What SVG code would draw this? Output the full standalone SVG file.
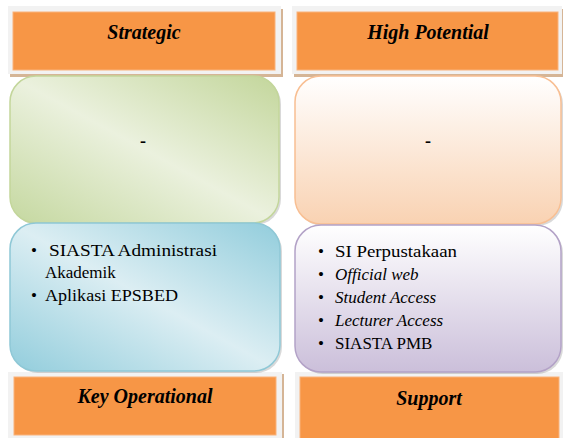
<svg xmlns="http://www.w3.org/2000/svg" width="563" height="438" viewBox="0 0 563 438">
<defs>
<linearGradient id="gGreen" x1="0" y1="1" x2="1" y2="0">
<stop offset="0" stop-color="#C5D8A0"/>
<stop offset="0.5" stop-color="#EBF1DE"/>
<stop offset="1" stop-color="#C3D69B"/>
</linearGradient>
<linearGradient id="gBlue" x1="0" y1="1" x2="1" y2="0">
<stop offset="0" stop-color="#92CDDC"/>
<stop offset="0.5" stop-color="#DCEEF3"/>
<stop offset="1" stop-color="#92CDDC"/>
</linearGradient>
<linearGradient id="gPeach" x1="0" y1="0" x2="0" y2="1">
<stop offset="0" stop-color="#FFFFFF"/>
<stop offset="1" stop-color="#F9D2B2"/>
</linearGradient>
<linearGradient id="gPurple" x1="0" y1="0" x2="0" y2="1">
<stop offset="0" stop-color="#FFFFFF"/>
<stop offset="1" stop-color="#CBBFDA"/>
</linearGradient>
</defs>
<rect width="563" height="438" fill="#fff"/>

<g id="strategic-header" font-family="Liberation Serif">
<rect x="10" y="9" width="273" height="68" fill="#D5B596"/>
<rect x="8" y="6" width="273" height="68" fill="#F2F2F2"/>
<rect x="13" y="12" width="262" height="58" fill="#F79646" stroke="#F9B27A"/>
<text x="144" y="39" font-family="Liberation Serif" font-weight="bold" font-style="italic" font-size="20" text-anchor="middle" fill="#000">Strategic</text>
</g>

<g id="high-potential-header" font-family="Liberation Serif">
<rect x="294" y="9" width="270" height="68" fill="#D5B596"/>
<rect x="292" y="6" width="270" height="68" fill="#F2F2F2"/>
<rect x="297" y="12" width="261" height="58" fill="#F79646" stroke="#F9B27A"/>
<text x="428" y="39" font-family="Liberation Serif" font-weight="bold" font-style="italic" font-size="20" text-anchor="middle" fill="#000">High Potential</text>
</g>

<g id="key-operational-header" font-family="Liberation Serif">
<rect x="10" y="374" width="274" height="70" fill="#D5B596"/>
<rect x="8" y="372" width="274" height="70" fill="#F2F2F2"/>
<rect x="14" y="377" width="262" height="58" fill="#F79646" stroke="#F9B27A"/>
<text x="145" y="403" font-family="Liberation Serif" font-weight="bold" font-style="italic" font-size="20" text-anchor="middle" fill="#000">Key Operational</text>
</g>

<g id="support-header" font-family="Liberation Serif">
<rect x="295" y="372" width="270" height="70" fill="#F2F2F2"/>
<rect x="300" y="377" width="259" height="62" fill="#F79646" stroke="#F9B27A"/>
<text x="429" y="405" font-family="Liberation Serif" font-weight="bold" font-style="italic" font-size="20" text-anchor="middle" fill="#000">Support</text>
</g>

<g id="strategic-box" font-family="Liberation Serif">
<rect x="12" y="78" width="269" height="147" rx="26" fill="#000" fill-opacity="0.15"/>
<rect x="10" y="76" width="269" height="147" rx="26" fill="url(#gGreen)" stroke="#C3D69B" stroke-width="1.5"/>
<text x="143" y="147" font-family="Liberation Serif" font-weight="bold" font-size="18" text-anchor="middle" fill="#000">-</text>
</g>

<g id="high-potential-box" font-family="Liberation Serif">
<rect x="297" y="78" width="266" height="148" rx="26" fill="#000" fill-opacity="0.15"/>
<rect x="295" y="76" width="266" height="148" rx="26" fill="url(#gPeach)" stroke="#F8BF93" stroke-width="1.5"/>
<text x="428" y="147" font-family="Liberation Serif" font-weight="bold" font-size="18" text-anchor="middle" fill="#000">-</text>
</g>

<g id="key-operational-box" font-family="Liberation Serif">
<rect x="12" y="225" width="270" height="148" rx="26" fill="#000" fill-opacity="0.15"/>
<rect x="10" y="223" width="270" height="148" rx="26" fill="url(#gBlue)" stroke="#8FC8D6" stroke-width="1.5"/>
<text x="31" y="256" font-family="Liberation Serif" font-size="17" fill="#000">•</text>
<text x="49" y="256" font-family="Liberation Serif" font-size="17" fill="#000" textLength="168" lengthAdjust="spacingAndGlyphs">SIASTA  Administrasi</text>
<text x="45" y="278" font-family="Liberation Serif" font-size="17" fill="#000">Akademik</text>
<text x="31" y="301" font-family="Liberation Serif" font-size="17" fill="#000">•</text>
<text x="45" y="301" font-family="Liberation Serif" font-size="17" fill="#000" textLength="133" lengthAdjust="spacingAndGlyphs">Aplikasi EPSBED</text>
</g>

<g id="support-box" font-family="Liberation Serif">
<rect x="297" y="227" width="266" height="147" rx="26" fill="#000" fill-opacity="0.15"/>
<rect x="295" y="225" width="266" height="147" rx="26" fill="url(#gPurple)" stroke="#B3A2C7" stroke-width="1.5"/>
<text x="318" y="257" font-family="Liberation Serif" font-size="17" fill="#000">•</text>
<text x="335" y="257" font-family="Liberation Serif" font-size="17" fill="#000" textLength="122" lengthAdjust="spacingAndGlyphs">SI Perpustakaan</text>
<text x="318" y="280" font-family="Liberation Serif" font-size="17" fill="#000">•</text>
<text x="335" y="280" font-family="Liberation Serif" font-size="17" font-style="italic" fill="#000">Official web</text>
<text x="318" y="303" font-family="Liberation Serif" font-size="17" fill="#000">•</text>
<text x="335" y="303" font-family="Liberation Serif" font-size="17" font-style="italic" fill="#000">Student Access</text>
<text x="318" y="326" font-family="Liberation Serif" font-size="17" fill="#000">•</text>
<text x="335" y="326" font-family="Liberation Serif" font-size="17" font-style="italic" fill="#000">Lecturer Access</text>
<text x="318" y="349" font-family="Liberation Serif" font-size="17" fill="#000">•</text>
<text x="335" y="349" font-family="Liberation Serif" font-size="17" fill="#000">SIASTA  PMB</text>
</g>

<g id="connectors"></g>
</svg>
